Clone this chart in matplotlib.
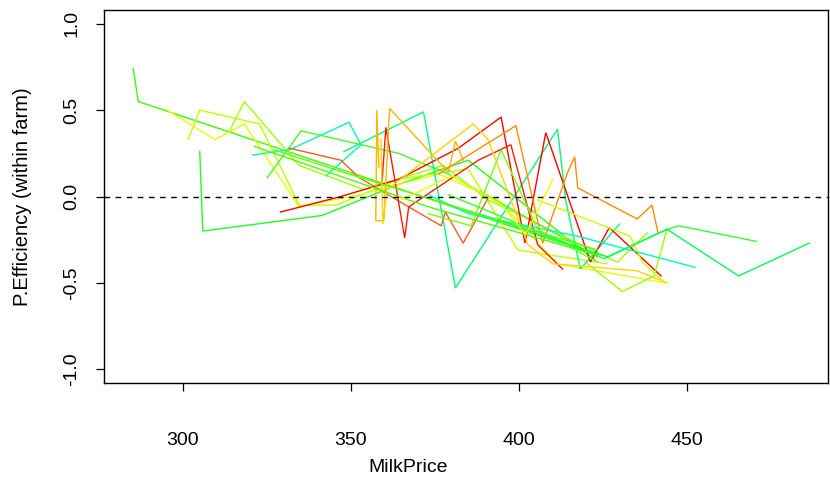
import matplotlib
matplotlib.use("Agg")
import matplotlib.pyplot as plt

plt.rcParams['font.family'] = ['Liberation Sans', 'DejaVu Sans']

# Within-farm price efficiency against milk price, one polyline per farm
farm_colors = [
    "#3CFF00", "#22FF22", "#BFFF00", "#E6FF00", "#A0FF00", "#44FF22",
    "#00FFAA", "#00FF77", "#FF5A1E", "#FF0000", "#FF1A00", "#FFB400",
    "#FFD200", "#FF8C00", "#7FFF00", "#9AFF00", "#CCFF00", "#33FF33",
    "#00FF55", "#00FFB4", "#4DFF00", "#5CFF00", "#F0FF00",
]

milk_price = [
    [285.2, 286.7, 423.4],
    [305.0, 305.9, 341.4, 364.2, 384.9, 423.4],
    [301.5, 305.0, 322.8, 334.6, 345.6, 364.2, 384.9, 399.7, 426.3],
    [295.3, 309.5, 318.3, 334.6, 352.4, 376.0, 393.8, 411.5, 443.5],
    [313.9, 318.3, 334.6, 353.8, 377.5, 390.8, 429.3, 438.2],
    [325.1, 335.2, 364.2, 379.0, 423.4],
    [320.7, 331.7, 349.4, 353.0, 342.6],
    [347.9, 371.6, 381.1, 411.5, 413.9, 418.3, 429.9],
    [331.7, 347.0, 352.4, 366.3, 376.9, 378.1, 383.4, 390.8],
    [329.0, 347.0, 364.2, 382.0, 394.7, 401.8, 408.0, 421.3, 426.9, 442.3],
    [359.2, 360.4, 366.0, 367.2, 387.9, 397.6, 405.6, 413.0],
    [358.3, 357.7, 357.4, 359.8, 361.5, 379.0, 381.1, 383.4],
    [358.9, 359.5, 360.7, 386.4, 390.8, 402.7, 410.1, 435.2, 444.1],
    [376.0, 399.1, 407.1, 414.5, 416.6, 417.5, 435.2, 439.6, 441.4],
    [373.1, 385.8, 394.7, 405.6, 423.4],
    [420.4, 430.8, 440.2, 444.1],
    [405.6, 433.1, 436.7, 443.5],
    [379.0, 425.4, 444.1, 447.6, 470.7],
    [387.9, 426.3, 444.1, 465.4, 486.4],
    [373.1, 384.9, 417.5, 452.4],
    [321.3, 373.1, 423.4],
    [327.2, 349.4, 423.4],
    [365.0, 380.0, 395.0, 402.0, 410.1],
]

efficiency = [
    [0.74, 0.55, -0.34],
    [0.26, -0.20, -0.11, 0.07, 0.21, -0.38],
    [0.33, 0.50, 0.42, -0.05, -0.05, 0.10, 0.16, -0.31, -0.39],
    [0.50, 0.33, 0.42, -0.06, 0.01, 0.13, -0.02, -0.39, -0.50],
    [0.38, 0.55, 0.18, 0.04, 0.18, -0.02, -0.38, -0.21],
    [0.11, 0.38, 0.25, 0.13, -0.35],
    [0.24, 0.27, 0.43, 0.30, 0.12],
    [0.26, 0.49, -0.53, 0.39, -0.02, -0.42, -0.16],
    [0.28, 0.21, 0.11, -0.05, -0.17, -0.09, -0.27, -0.01],
    [-0.09, 0.00, 0.10, 0.28, 0.46, -0.27, 0.37, -0.38, -0.18, -0.46],
    [0.07, 0.40, -0.24, -0.06, 0.21, 0.30, -0.28, -0.42],
    [0.17, 0.50, -0.14, -0.14, 0.51, 0.14, 0.32, 0.21],
    [0.33, -0.16, 0.04, 0.42, 0.33, -0.28, -0.39, -0.43, -0.50],
    [0.13, 0.41, -0.27, 0.14, 0.23, 0.05, -0.13, -0.05, -0.21],
    [-0.10, -0.17, 0.27, -0.19, -0.38],
    [-0.39, -0.55, -0.46, -0.19],
    [-0.02, -0.23, -0.38, -0.50],
    [0.01, -0.36, -0.19, -0.17, -0.26],
    [-0.10, -0.35, -0.19, -0.46, -0.27],
    [0.01, -0.10, -0.23, -0.41],
    [0.29, -0.06, -0.34],
    [0.27, 0.13, -0.31],
    [-0.02, 0.12, -0.05, -0.22, 0.10],
]

x_ticks = [300, 350, 400, 450]
y_ticks = [-1.0, -0.5, 0.0, 0.5, 1.0]

W, H = 830, 482
fig = plt.figure(figsize=(W / 100, H / 100), dpi=100)
ax = fig.add_axes([104 / W, 1 - 383 / H, (828 - 104) / W, (383 - 10) / H])

for xs, ys, c in zip(milk_price, efficiency, farm_colors):
    ax.plot(xs, ys, color=c, lw=1.0, solid_joinstyle="miter")

ax.axhline(0, color="black", lw=1.0, ls=(0, (4, 4)))

ax.set_xlim(276.5, 492.0)
ax.set_ylim(-1.08, 1.08)
ax.set_xticks(x_ticks)
ax.set_xticklabels([str(v) for v in x_ticks])
ax.set_yticks(y_ticks)
ax.set_yticklabels([f"{v:.1f}" for v in y_ticks], rotation=90, va="center")

for s in ax.spines.values():
    s.set_linewidth(1.0)
    s.set_color("black")

ax.tick_params(axis="both", direction="out", length=6, width=0.9,
               labelsize=14, colors="black")
ax.tick_params(axis="x", pad=29)
ax.tick_params(axis="y", pad=11)

ax.set_xlabel("MilkPrice", fontsize=14, va="center")
ax.xaxis.set_label_coords((408 - 104) / (828 - 104), -(468 - 383) / (383 - 10))
ax.set_ylabel("P.Efficiency (within farm)", fontsize=14.5, va="center")
ax.yaxis.set_label_coords(-(104 - 22) / (828 - 104), 0.5)

fig.savefig("out.png", dpi=100)
